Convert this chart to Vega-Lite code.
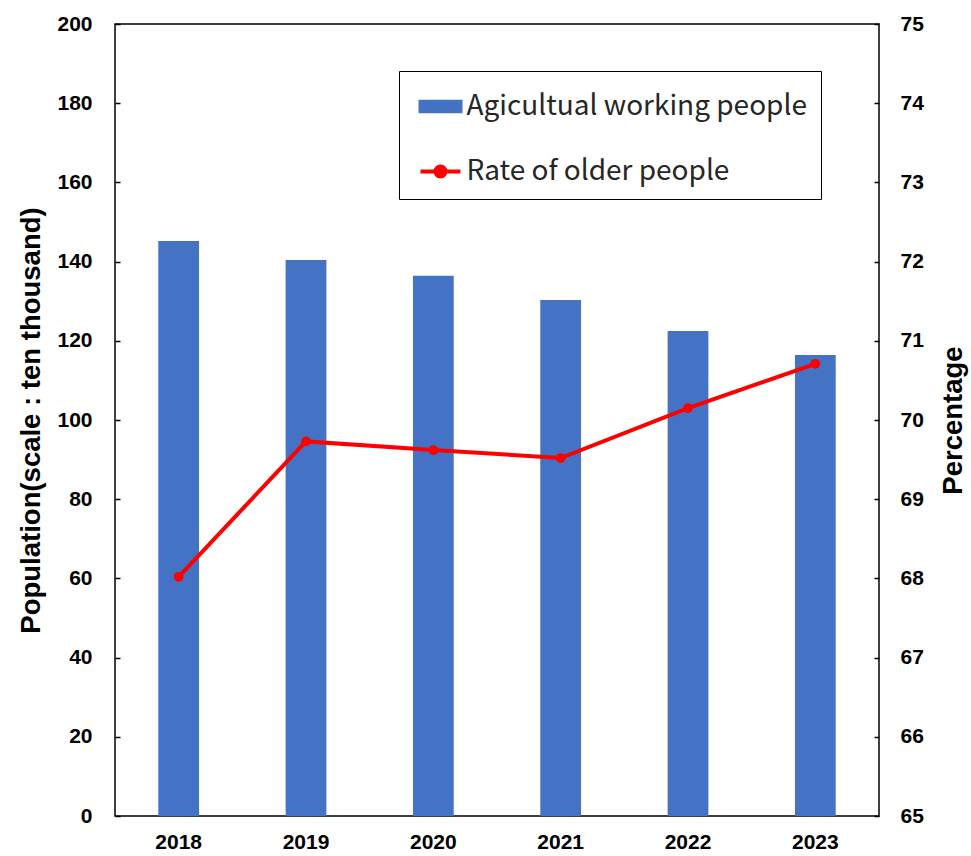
{
  "$schema": "https://vega.github.io/schema/vega-lite/v6.json",
  "autosize": {"type": "none"},
  "padding": {"left": 115, "top": 24, "right": 92, "bottom": 40},
  "width": 764,
  "height": 792,
  "background": "white",
  "config": {
    "view": {"stroke": "black", "strokeWidth": 1.5},
    "axis": {"grid": false, "domain": false, "labelFont": "Liberation Sans", "labelFontWeight": "bold", "labelFontSize": 21, "labelColor": "black", "titleFont": "Liberation Sans", "titleFontWeight": "bold", "titleFontSize": 27.5, "titleColor": "black", "tickColor": "black", "tickWidth": 1.5}
  },
  "data": {"values": [
    {"year": "2018", "pop": 145.2, "rate": 68.02},
    {"year": "2019", "pop": 140.4, "rate": 69.73},
    {"year": "2020", "pop": 136.4, "rate": 69.62},
    {"year": "2021", "pop": 130.3, "rate": 69.52},
    {"year": "2022", "pop": 122.5, "rate": 70.15},
    {"year": "2023", "pop": 116.4, "rate": 70.71}
  ]},
  "encoding": {
    "x": {"field": "year", "type": "nominal", "scale": {"paddingInner": 0.68, "paddingOuter": 0.34},
      "axis": {"title": null, "labelAngle": 0, "ticks": false, "labelPadding": 15}}
  },
  "layer": [
    {
      "mark": {"type": "bar", "color": "#4472C4"},
      "encoding": {
        "y": {"field": "pop", "type": "quantitative", "scale": {"domain": [0, 200], "nice": false},
          "axis": {"title": "Population(scale : ten thousand)", "values": [0,20,40,60,80,100,120,140,160,180,200], "tickSize": -5, "labelPadding": 28, "titlePadding": 11}},
        "color": {"datum": "Agicultual working people", "type": "nominal",
          "scale": {"domain": ["Agicultual working people", "Rate of older people"], "range": ["#4472C4", "#FF0000"]},
          "legend": {
            "title": null, "orient": "none", "legendX": 284, "legendY": 47,
            "strokeColor": "black", "fillColor": "white", "padding": 13.5,
            "labelFont": "Noto Sans CJK JP", "labelFontSize": 28, "labelColor": "#262626", "labelOffset": 4,
            "symbolSize": 1600, "symbolOffset": 6, "rowPadding": 29, "labelLimit": 500,
            "encode": {"symbols": {"update": {
              "shape": {"signal": "datum.value === 'Agicultual working people' ? 'M-1,-0.24H1V0.24H-1Z' : 'M-1,0H1M0.25,0A0.25,0.25,0,1,1,-0.25,0A0.25,0.25,0,1,1,0.25,0'"},
              "fill": {"signal": "datum.value === 'Agicultual working people' ? '#4472C4' : '#FF0000'"},
              "stroke": {"signal": "datum.value === 'Agicultual working people' ? null : '#FF0000'"},
              "strokeWidth": {"value": 4},
              "fillOpacity": {"value": 1},
              "opacity": {"value": 1}
            }}}
          }}
      }
    },
    {
      "mark": {"type": "line", "color": "#FF0000", "strokeWidth": 4, "point": {"filled": true, "size": 95, "color": "#FF0000"}},
      "encoding": {
        "y": {"field": "rate", "type": "quantitative", "scale": {"domain": [65, 75], "nice": false, "zero": false},
          "axis": {"orient": "right", "title": "Percentage", "values": [65,66,67,68,69,70,71,72,73,74,75], "tickSize": -5, "labelPadding": 26, "titlePadding": 16, "titleAngle": -90, "titleBaseline": "top"}},
        "color": {"datum": "Rate of older people", "type": "nominal"}
      }
    }
  ],
  "resolve": {"scale": {"y": "independent"}}
}
